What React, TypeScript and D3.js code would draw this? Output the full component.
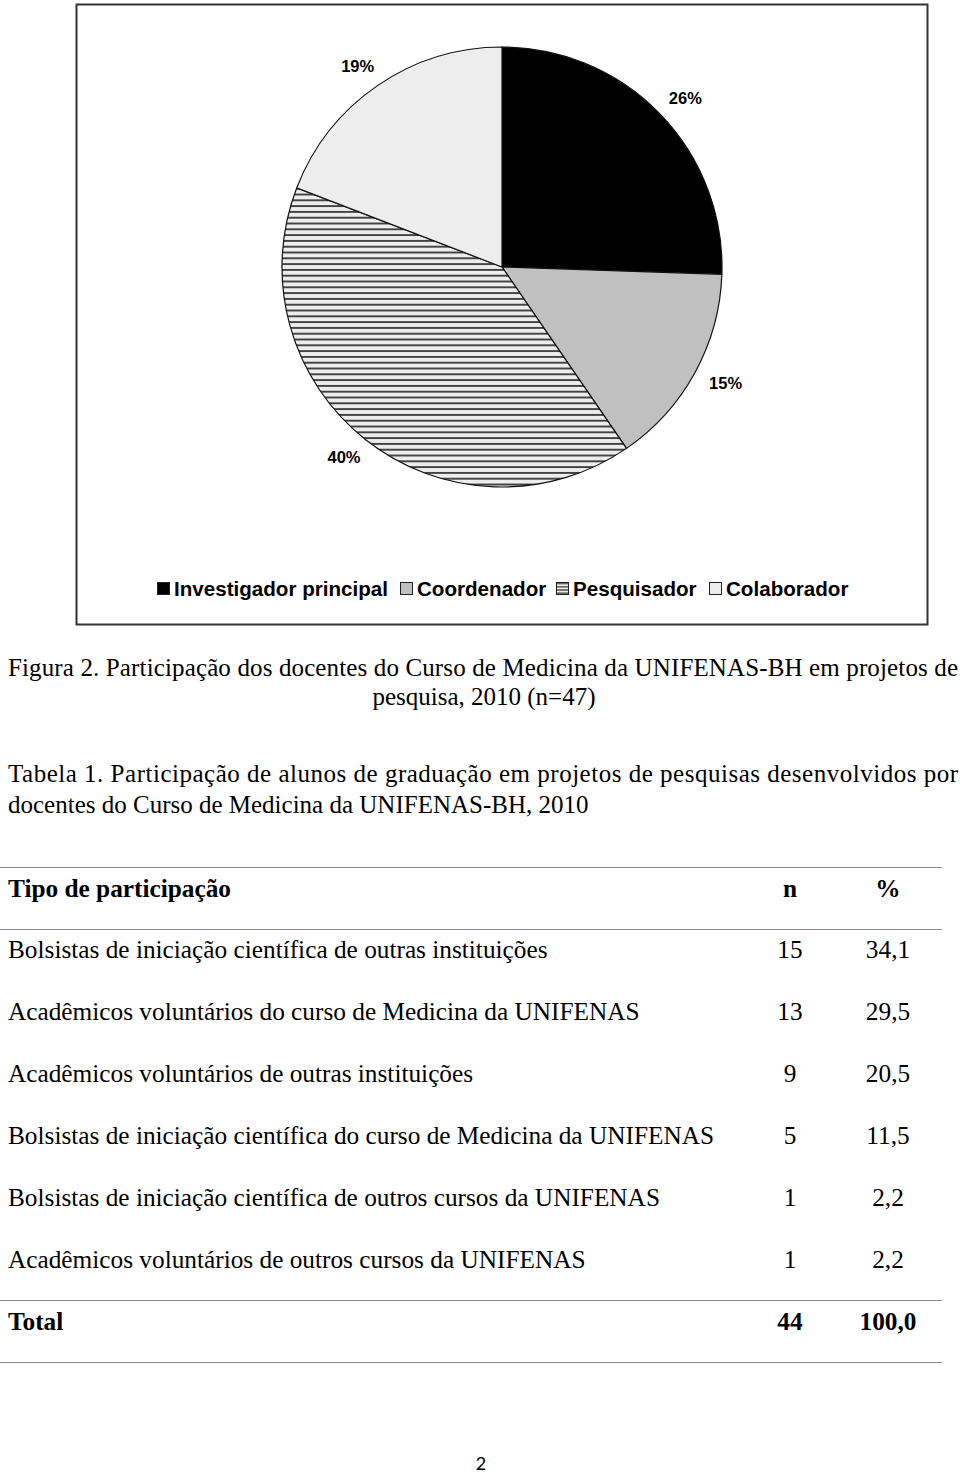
import React from "react";
import * as d3 from "d3";

const categories = ["Investigador principal", "Coordenador", "Pesquisador", "Colaborador"];
const counts = [12, 7, 19, 9];
const sliceLabels = ["26%", "15%", "40%", "19%"];

const captionLines = [
  "Figura 2. Participação dos docentes do Curso de Medicina da UNIFENAS-BH em projetos de",
  "pesquisa, 2010 (n=47)",
];
const tableTitleLines = [
  "Tabela 1. Participação de alunos de graduação em projetos de pesquisas desenvolvidos por",
  "docentes do Curso de Medicina da UNIFENAS-BH, 2010",
];
const tableHeaders = ["Tipo de participação", "n", "%"];
const rowLabels = [
  "Bolsistas de iniciação científica de outras instituições",
  "Acadêmicos voluntários do curso de Medicina da UNIFENAS",
  "Acadêmicos voluntários de outras instituições",
  "Bolsistas de iniciação científica do curso de Medicina da UNIFENAS",
  "Bolsistas de iniciação científica de outros cursos da UNIFENAS",
  "Acadêmicos voluntários de outros cursos da UNIFENAS",
];
const rowN = ["15", "13", "9", "5", "1", "1"];
const rowPct = ["34,1", "29,5", "20,5", "11,5", "2,2", "2,2"];
const totalRow = ["Total", "44", "100,0"];
const pageNumber = "2";

const fills = ["#000000", "#c0c0c0", "url(#hatch)", "#ededed"];
const serif = "'Liberation Serif', 'Times New Roman', serif";
const sans = "'Liberation Sans', Arial, sans-serif";

export default function App() {
  const cx = 502, cy = 267, R = 220;
  const pie = d3.pie<number>().sort(null).value((d) => d)(counts);
  const arc = d3.arc<d3.PieArcDatum<number>>().innerRadius(0).outerRadius(R);
  const unitArc = d3.arc<d3.PieArcDatum<number>>().innerRadius(1).outerRadius(1);
  const labelRx = 255, labelRy = 243;

  const legendX = [157, 400, 556, 709];
  const rowY = d3.range(rowLabels.length).map((i) => 958 + i * 62);

  return (
    <svg width={960} height={1474} style={{ position: "absolute", left: 0, top: 0, background: "#fff" }}>
      <defs>
        <pattern id="hatch" patternUnits="userSpaceOnUse" width={8} height={5.8}>
          <rect width={8} height={5.8} fill="#ededed" />
          <line x1={0} x2={8} y1={2.9} y2={2.9} stroke="#111" strokeWidth={1.5} />
        </pattern>
        <pattern id="hatchL" patternUnits="userSpaceOnUse" width={8} height={3.2} y={582}>
          <rect width={8} height={3.2} fill="#ededed" />
          <line x1={0} x2={8} y1={1.6} y2={1.6} stroke="#111" strokeWidth={1} />
        </pattern>
      </defs>
      <rect x={76.5} y={4.5} width={851} height={620} fill="#fff" stroke="#333" strokeWidth={2} />
      <g transform={`translate(${cx},${cy})`}>
        {pie.map((d, i) => (
          <path key={i} d={arc(d) || ""} fill={fills[i]} stroke="#111" strokeWidth={1.2} />
        ))}
        {pie.map((d, i) => {
          const [ux, uy] = unitArc.centroid(d);
          return (
            <text key={i} x={ux * labelRx} y={uy * labelRy + 5.5} textAnchor="middle" fontFamily={sans} fontWeight="bold" fontSize={16.5} fill="#000">
              {sliceLabels[i]}
            </text>
          );
        })}
      </g>
      {categories.map((c, i) => (
        <g key={c}>
          <rect x={legendX[i] + 0.5} y={582.5} width={12} height={12}
            fill={i === 2 ? "url(#hatchL)" : fills[i]} stroke="#222" strokeWidth={1} />
          <text x={legendX[i] + 17} y={595.5} fontFamily={sans} fontWeight="bold" fontSize={20.6} fill="#000">{c}</text>
        </g>
      ))}
      <text x={8} y={676} fontFamily={serif} fontSize={25} textLength={950} lengthAdjust="spacing">{captionLines[0]}</text>
      <text x={484} y={705} fontFamily={serif} fontSize={25} textAnchor="middle">{captionLines[1]}</text>
      <text x={8} y={782} fontFamily={serif} fontSize={25} textLength={950} lengthAdjust="spacing">{tableTitleLines[0]}</text>
      <text x={8} y={813} fontFamily={serif} fontSize={25}>{tableTitleLines[1]}</text>

      {[867.5, 929.5, 1300.5, 1362.5].map((y) => (
        <line key={y} x1={0} x2={942} y1={y} y2={y} stroke="#8a8a8a" strokeWidth={1.2} />
      ))}
      <text x={8} y={897} fontFamily={serif} fontWeight="bold" fontSize={25.3}>{tableHeaders[0]}</text>
      <text x={790} y={897} fontFamily={serif} fontWeight="bold" fontSize={25.3} textAnchor="middle">{tableHeaders[1]}</text>
      <text x={888} y={897} fontFamily={serif} fontWeight="bold" fontSize={25.3} textAnchor="middle">{tableHeaders[2]}</text>
      {rowLabels.map((r, i) => (
        <g key={r}>
          <text x={8} y={rowY[i]} fontFamily={serif} fontSize={25.3}>{r}</text>
          <text x={790} y={rowY[i]} fontFamily={serif} fontSize={25.3} textAnchor="middle">{rowN[i]}</text>
          <text x={888} y={rowY[i]} fontFamily={serif} fontSize={25.3} textAnchor="middle">{rowPct[i]}</text>
        </g>
      ))}
      <text x={8} y={1330} fontFamily={serif} fontWeight="bold" fontSize={25.3}>{totalRow[0]}</text>
      <text x={790} y={1330} fontFamily={serif} fontWeight="bold" fontSize={25.3} textAnchor="middle">{totalRow[1]}</text>
      <text x={888} y={1330} fontFamily={serif} fontWeight="bold" fontSize={25.3} textAnchor="middle">{totalRow[2]}</text>
      <text x={481} y={1470} fontFamily="Lato, 'Open Sans', sans-serif" fontSize={18} textAnchor="middle">{pageNumber}</text>
    </svg>
  );
}
